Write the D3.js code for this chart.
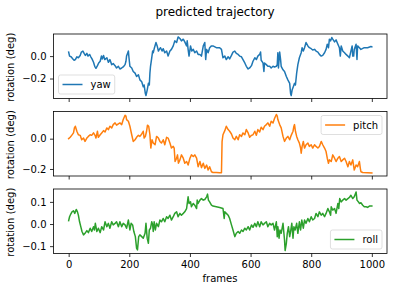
<!DOCTYPE html>
<html>
<head>
<meta charset="utf-8">
<script src="https://cdn.jsdelivr.net/npm/d3@7"></script>
<style>
  html, body { margin: 0; padding: 0; background: #fff; }
  svg { display: block; font-family: "DejaVu Sans", sans-serif; }
</style>
</head>
<body>
<svg id="chart" width="394" height="291"></svg>
<script>
// values: [frame, rotation]
const yaw = [
  [0,0.036],[3,0.000],[8,-0.006],[14,-0.025],[18,-0.037],[22,-0.031],[27,-0.006],[32,-0.015],[38,0.006],[42,0.036],
  [47,0.045],[51,0.024],[55,0.006],[60,0.024],[64,0.000],[69,0.015],[73,-0.006],[77,-0.025],[82,-0.055],[86,-0.091],
  [90,-0.109],[95,-0.085],[99,-0.061],[104,-0.046],[108,0.000],[111,-0.025],[115,0.006],[119,-0.031],[126,-0.015],[131,-0.055],
  [136,-0.031],[142,-0.076],[147,-0.067],[153,-0.085],[158,-0.106],[164,-0.091],[169,-0.115],[175,-0.106],[180,-0.097],[186,-0.076],
  [189,-0.046],[191,0.000],[195,0.030],[197,0.045],[199,-0.015],[202,-0.091],[208,-0.106],[213,-0.137],[219,-0.152],[224,-0.182],
  [230,-0.167],[235,-0.212],[241,-0.228],[246,-0.273],[249,-0.258],[253,-0.334],[255,-0.352],[259,-0.303],[263,-0.243],[266,-0.258],
  [268,-0.152],[270,-0.091],[274,-0.015],[277,0.045],[279,0.030],[283,0.075],[288,0.121],[292,0.091],[296,0.045],[299,0.060],
  [303,0.075],[308,0.045],[312,0.066],[317,0.030],[323,0.045],[328,0.000],[334,0.045],[339,0.060],[345,0.091],[350,0.136],
  [356,0.121],[361,0.171],[367,0.157],[372,0.136],[378,0.151],[383,0.127],[389,0.091],[391,0.136],[394,0.060],[397,0.000],
  [402,0.091],[406,0.045],[411,0.060],[416,0.030],[422,0.045],[427,0.015],[433,0.015],[438,0.000],[444,0.091],[449,0.121],
  [452,-0.031],[455,0.060],[460,0.030],[465,0.075],[471,0.091],[476,0.091],[487,0.075],[498,0.075],[504,0.060],[509,-0.015],
  [515,0.000],[520,-0.031],[526,-0.006],[531,-0.025],[537,0.006],[542,0.036],[548,0.045],[553,0.024],[559,0.015],[564,0.000],
  [570,-0.006],[575,-0.031],[581,-0.061],[586,-0.091],[592,-0.115],[597,-0.106],[603,-0.085],[608,-0.046],[614,-0.015],[619,-0.031],
  [624,0.000],[630,0.015],[633,0.036],[635,-0.037],[641,-0.061],[644,-0.137],[646,-0.061],[652,-0.076],[657,-0.091],[663,-0.091],
  [668,-0.106],[674,-0.091],[679,-0.097],[685,-0.091],[688,-0.076],[690,0.030],[692,-0.106],[696,0.036],[699,-0.031],[701,-0.091],
  [707,-0.122],[712,-0.137],[718,-0.182],[723,-0.212],[729,-0.243],[732,-0.334],[734,-0.352],[737,-0.303],[741,-0.273],[745,-0.243],
  [748,-0.258],[752,-0.152],[756,-0.076],[761,-0.015],[767,0.030],[770,0.075],[774,0.045],[778,0.075],[783,0.121],[789,0.091],
  [794,0.075],[800,0.066],[805,0.054],[811,0.060],[816,0.045],[822,0.036],[827,0.015],[833,0.000],[838,0.006],[844,0.030],
  [849,0.060],[853,0.106],[857,0.075],[860,0.151],[864,0.136],[868,0.166],[871,0.151],[877,0.127],[882,0.145],[888,0.106],
  [893,0.075],[896,0.000],[899,0.091],[904,0.045],[910,0.030],[915,0.015],[921,0.000],[926,-0.015],[931,0.045],[935,0.091],
  [937,0.000],[940,0.000],[942,0.060],[948,0.106],[951,-0.031],[953,0.091],[959,0.075],[964,0.060],[975,0.075],[986,0.075],
  [997,0.085],[1000,0.082]
];

const pitch = [
  [0,0.000],[5,0.009],[10,0.022],[16,0.038],[19,0.071],[22,0.082],[27,0.049],[32,0.026],[38,0.022],[43,-0.007],
  [49,0.004],[54,-0.018],[60,0.004],[65,0.015],[71,0.026],[76,0.022],[82,0.038],[87,0.022],[90,0.004],[95,0.049],
  [98,0.009],[104,0.026],[109,0.038],[115,0.053],[120,0.044],[126,0.071],[131,0.060],[136,0.082],[142,0.071],[147,0.093],
  [153,0.104],[158,0.089],[164,0.098],[169,0.104],[175,0.093],[180,0.126],[186,0.155],[189,0.149],[191,0.126],[197,0.115],
  [202,0.082],[208,0.026],[213,-0.018],[219,-0.007],[224,0.009],[230,0.022],[235,0.015],[241,0.031],[246,0.049],[249,0.004],
  [253,0.015],[257,0.049],[260,0.089],[264,0.082],[268,0.026],[271,-0.062],[275,-0.007],[279,-0.029],[285,-0.040],[290,0.015],
  [296,0.004],[301,-0.018],[306,-0.029],[312,-0.007],[317,-0.040],[323,0.009],[328,0.004],[334,-0.029],[339,-0.062],[345,-0.051],
  [348,-0.062],[351,-0.151],[356,-0.129],[359,-0.107],[362,-0.162],[367,-0.140],[372,-0.107],[378,-0.129],[383,-0.162],[389,-0.151],
  [394,-0.174],[400,-0.129],[405,-0.107],[411,-0.118],[416,-0.107],[422,-0.129],[427,-0.185],[433,-0.151],[438,-0.191],[444,-0.162],
  [449,-0.196],[455,-0.174],[460,-0.207],[465,-0.185],[471,-0.218],[476,-0.223],[487,-0.223],[498,-0.225],[504,-0.225],[506,-0.020],
  [509,0.026],[515,0.053],[520,0.082],[526,0.060],[531,0.049],[537,0.031],[542,0.004],[548,-0.007],[553,0.015],[559,-0.007],
  [564,0.026],[570,0.015],[575,0.038],[581,0.026],[586,0.060],[592,0.038],[597,0.009],[603,0.022],[608,0.026],[614,0.049],
  [619,0.022],[624,0.060],[630,0.044],[635,0.075],[641,0.060],[646,0.082],[652,0.093],[657,0.104],[663,0.082],[668,0.115],
  [674,0.104],[679,0.133],[685,0.160],[688,0.149],[690,0.126],[696,0.093],[701,0.071],[707,0.015],[712,-0.018],[718,0.004],
  [723,0.015],[729,-0.007],[734,0.022],[740,0.049],[743,0.082],[745,0.093],[748,0.049],[752,0.015],[756,-0.007],[761,-0.029],
  [765,-0.062],[767,-0.096],[770,-0.051],[774,-0.018],[778,-0.062],[783,-0.040],[789,-0.029],[794,-0.051],[800,-0.040],[805,-0.062],
  [811,-0.040],[816,-0.051],[822,-0.062],[827,-0.051],[833,-0.018],[838,-0.040],[844,-0.062],[849,-0.085],[853,-0.129],[857,-0.162],
  [860,-0.140],[866,-0.151],[871,-0.107],[877,-0.129],[882,-0.151],[888,-0.129],[893,-0.118],[899,-0.151],[904,-0.140],[910,-0.129],
  [915,-0.151],[921,-0.185],[926,-0.151],[931,-0.174],[937,-0.140],[942,-0.207],[948,-0.174],[953,-0.185],[959,-0.151],[962,-0.196],
  [964,-0.218],[970,-0.223],[986,-0.225],[1000,-0.227]
];

const roll = [
  [0,0.015],[3,0.033],[7,0.045],[11,0.055],[16,0.060],[20,0.048],[25,0.066],[29,0.055],[32,0.040],[36,0.010],
  [40,-0.012],[44,-0.034],[49,-0.049],[54,-0.042],[60,-0.030],[65,-0.039],[71,-0.019],[76,-0.034],[82,-0.012],[85,-0.027],
  [88,0.003],[93,-0.034],[98,-0.019],[104,-0.039],[109,-0.012],[115,-0.027],[120,0.010],[126,-0.012],[131,0.003],[136,-0.019],
  [142,0.010],[147,-0.004],[153,0.003],[158,0.010],[164,-0.012],[169,0.010],[175,-0.012],[180,0.003],[186,-0.004],[191,-0.019],
  [197,0.018],[202,-0.027],[206,0.003],[211,-0.004],[215,-0.034],[220,-0.057],[224,-0.109],[227,-0.117],[231,-0.057],[235,-0.049],
  [241,-0.057],[246,-0.064],[252,-0.042],[255,0.003],[259,-0.064],[263,-0.087],[266,-0.027],[270,-0.019],[274,0.010],[277,-0.004],
  [279,-0.034],[282,0.010],[286,-0.027],[290,0.003],[296,-0.012],[301,0.018],[306,0.010],[312,0.025],[317,0.010],[323,0.033],
  [328,0.025],[334,0.040],[339,0.018],[345,0.033],[350,0.048],[356,0.055],[361,0.033],[367,0.048],[372,0.040],[378,0.048],
  [383,0.055],[389,0.070],[394,0.123],[397,0.093],[402,0.100],[405,0.078],[411,0.093],[416,0.085],[422,0.070],[424,0.108],
  [427,0.093],[433,0.108],[438,0.115],[444,0.108],[449,0.111],[455,0.123],[458,0.135],[461,0.108],[465,0.100],[471,0.085],
  [476,0.081],[487,0.078],[498,0.075],[509,0.070],[513,0.025],[515,0.055],[520,0.048],[526,0.040],[531,0.025],[537,-0.004],
  [542,-0.027],[548,-0.057],[553,-0.042],[559,-0.034],[564,-0.042],[570,-0.027],[575,-0.034],[581,-0.019],[586,-0.027],[592,-0.012],
  [597,-0.027],[603,-0.004],[608,-0.015],[614,0.003],[619,-0.012],[624,0.010],[630,-0.012],[635,0.010],[641,-0.004],[646,0.003],
  [652,0.010],[657,-0.012],[663,0.003],[668,-0.004],[674,0.003],[679,-0.027],[685,0.010],[688,-0.057],[690,-0.012],[694,-0.064],
  [697,-0.027],[701,-0.042],[707,0.003],[712,-0.072],[714,-0.120],[718,-0.087],[721,-0.042],[725,-0.012],[729,-0.057],[732,-0.034],
  [736,0.003],[740,-0.064],[743,-0.012],[747,-0.027],[752,0.003],[756,-0.042],[761,0.010],[765,-0.027],[769,0.018],[774,-0.019],
  [778,0.018],[783,0.003],[789,0.025],[794,0.010],[800,0.033],[805,0.018],[811,0.025],[816,0.048],[822,0.033],[827,0.055],
  [833,0.040],[838,0.048],[844,0.033],[849,0.048],[855,0.070],[860,0.055],[864,0.040],[866,0.078],[871,0.063],[877,0.070],
  [882,0.048],[888,0.093],[891,0.070],[894,0.115],[899,0.100],[904,0.108],[910,0.115],[915,0.108],[921,0.115],[926,0.120],
  [931,0.130],[937,0.115],[942,0.123],[948,0.145],[951,0.108],[956,0.100],[959,0.093],[964,0.096],[970,0.085],[975,0.078],
  [981,0.078],[986,0.075],[992,0.081],[1000,0.081]
];

const seriesNames = ["yaw", "pitch", "roll"];
const seriesColors = ["#1f77b4", "#ff7f0e", "#2ca02c"];
const legendSpots = ["lower left", "upper right", "lower right"];
const xTicks = [0, 200, 400, 600, 800, 1000];
const yTicks = [[-0.2, 0.0], [-0.2, 0.0], [-0.1, 0.0, 0.1]];

const W = 394, H = 291;
const left = 53.5, right = 387;
const panelH = 64.5, gap = 13, top0 = 34;

const svg = d3.select("#chart");
svg.append("rect").attr("width", W).attr("height", H).attr("fill", "#fff");

svg.append("text")
  .attr("x", 215).attr("y", 15.5)
  .attr("text-anchor", "middle")
  .attr("font-size", 12).attr("fill", "#000")
  .text("predicted trajectory");

const x = d3.scaleLinear().domain([-50, 1050]).range([left, right]);
const fmt = d3.format(".1f");
const allData = [yaw, pitch, roll];

allData.forEach(function (data, i) {
  let top = top0 + i * (panelH + gap);
  let bottom = top + panelH;
  let ext = d3.extent(data, d => d[1]);
  let pad = (ext[1] - ext[0]) * 0.05;
  let y = d3.scaleLinear().domain([ext[0] - pad, ext[1] + pad]).range([bottom, top]);

  let g = svg.append("g");

  // clip line to the axes box
  g.append("clipPath").attr("id", "clip" + i)
    .append("rect").attr("x", left).attr("y", top)
    .attr("width", right - left).attr("height", panelH);

  let line = d3.line().x(d => x(d[0])).y(d => y(d[1]));
  g.append("path").datum(data)
    .attr("clip-path", "url(#clip" + i + ")")
    .attr("fill", "none")
    .attr("stroke", seriesColors[i])
    .attr("stroke-width", 1.5)
    .attr("stroke-linejoin", "round")
    .attr("stroke-linecap", "square")
    .attr("d", line);

  // x axis (tick labels only on the last panel)
  let xAxis = d3.axisBottom(x).tickValues(xTicks).tickSize(3.5).tickPadding(3.5)
    .tickFormat(i === 2 ? d3.format("d") : "");
  let gx = g.append("g").attr("transform", "translate(0," + bottom + ")").call(xAxis);

  let yAxis = d3.axisLeft(y).tickValues(yTicks[i]).tickSize(3.5).tickPadding(3.5).tickFormat(fmt);
  let gy = g.append("g").attr("transform", "translate(" + left + ",0)").call(yAxis);

  [gx, gy].forEach(function (ax) {
    ax.select(".domain").remove();
    ax.selectAll(".tick line").attr("stroke", "#000").attr("stroke-width", 0.8);
    ax.selectAll(".tick text").attr("fill", "#000").attr("font-size", 10)
      .attr("font-family", "DejaVu Sans, sans-serif");
  });

  // spines
  g.append("rect").attr("x", left).attr("y", top)
    .attr("width", right - left).attr("height", panelH)
    .attr("fill", "none").attr("stroke", "#000").attr("stroke-width", 0.8);

  // y label
  g.append("text")
    .attr("transform", "translate(14," + (top + panelH / 2 + 1) + ") rotate(-90)")
    .attr("text-anchor", "middle")
    .attr("font-size", 10).attr("fill", "#000")
    .text("rotation (deg)");

  // legend
  let name = seriesNames[i];
  let tmp = g.append("text").attr("font-size", 10).text(name);
  let tw = tmp.node().getComputedTextLength();
  tmp.remove();
  let bw = 4 + 20 + 8 + tw + 4, bh = 19;
  let bx = legendSpots[i].includes("left") ? left + 5 : right - 5 - bw;
  let by = legendSpots[i].includes("upper") ? top + 4 : bottom - 4.5 - bh;
  let lg = g.append("g").attr("transform", "translate(" + bx + "," + by + ")");
  lg.append("rect").attr("width", bw).attr("height", bh).attr("rx", 2)
    .attr("fill", "#fff").attr("fill-opacity", 0.8)
    .attr("stroke", "#ccc").attr("stroke-opacity", 0.8).attr("stroke-width", 0.8);
  lg.append("line").attr("x1", 4).attr("x2", 24).attr("y1", bh / 2).attr("y2", bh / 2)
    .attr("stroke", seriesColors[i]).attr("stroke-width", 1.5);
  lg.append("text").attr("x", 32).attr("y", bh / 2).attr("dy", "0.35em")
    .attr("font-size", 10).attr("fill", "#000").text(name);
});

svg.append("text")
  .attr("x", 220).attr("y", 281.5)
  .attr("text-anchor", "middle")
  .attr("font-size", 10).attr("fill", "#000")
  .text("frames");
</script>
</body>
</html>
